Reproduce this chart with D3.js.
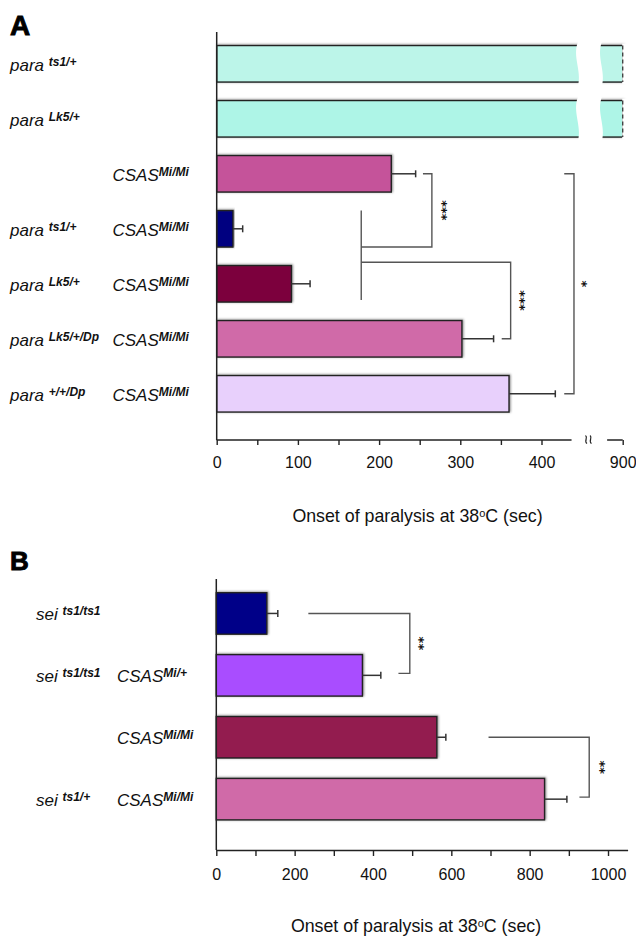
<!DOCTYPE html>
<html><head><meta charset="utf-8">
<script src="https://cdn.jsdelivr.net/npm/d3@7/dist/d3.min.js"></script>
<style>body{margin:0;background:#fff}svg{display:block;font-family:"Liberation Sans",Arial,sans-serif}</style>
</head><body>
<script>
// ---------- Panel A data ----------
const categoriesA = ["para ts1/+", "para Lk5/+", "CSAS Mi/Mi", "para ts1/+ CSAS Mi/Mi",
  "para Lk5/+ CSAS Mi/Mi", "para Lk5/+/Dp CSAS Mi/Mi", "para +/+/Dp CSAS Mi/Mi"];
const paraSupA = ["ts1/+", "Lk5/+", null, "ts1/+", "Lk5/+", "Lk5/+/Dp", "+/+/Dp"];
const csasSupA = [null, null, "Mi/Mi", "Mi/Mi", "Mi/Mi", "Mi/Mi", "Mi/Mi"];
const valuesA = [900, 900, 215, 20, 92, 302, 360];
const errorsA = [null, null, 30, 12, 23, 39, 57];
const colorsA = ["#bcf5e9", "#aef5e7", "#c5529a", "#000080", "#7b003c", "#d06aa8", "#e8d0fc"];
const ticksA = [0, 100, 200, 300, 400, 900];
const minorTicksA = [50, 150, 250, 350];
// significance brackets (category indices, data values)
const bracketsA = [
  {from: 2, xArm: 254, xBar: 265, label: "***"},
  {to: 5, xArm: 351, xBar: 362, label: "***"},
  {from: 2, to: 6, xArm: 428, xBar: 440, label: "*"}
];
const groupA = {x: 178, rows: [3, 4]};

// ---------- Panel B data ----------
const categoriesB = ["sei ts1/ts1", "sei ts1/ts1 CSAS Mi/+", "CSAS Mi/Mi", "sei ts1/+ CSAS Mi/Mi"];
const seiSupB = ["ts1/ts1", "ts1/ts1", null, "ts1/+"];
const csasSupB = [null, "Mi/+", "Mi/Mi", "Mi/Mi"];
const valuesB = [129, 373, 563, 838];
const errorsB = [28, 47, 23, 57];
const colorsB = ["#000088", "#a94dff", "#931a50", "#d06aa8"];
const ticksB = [0, 200, 400, 600, 800, 1000];
const minorTicksB = [100, 300, 500, 700, 900];
const bracketsB = [
  {from: 0, to: 1, xStart: 235, xBar: 494, xArm: 465, label: "**"},
  {from: 2, to: 3, xStart: 695, xBar: 952, xArm: 927, label: "**"}
];

const W = 636, H = 936;
const svg = d3.select("body").append("svg").attr("width", W).attr("height", H);
const defs = svg.append("defs");
const f = defs.append("filter").attr("id", "sh").attr("x", "-5%").attr("y", "-20%").attr("width", "115%").attr("height", "150%");
f.append("feDropShadow").attr("dx", 1).attr("dy", -0.5).attr("stdDeviation", 1.3).attr("flood-color", "#000").attr("flood-opacity", 0.45);

const ink = "#222", brk = "#555";

function rowLabel(g, x, y, base, sup, space) {
  const t = g.append("text").attr("x", x).attr("y", y).attr("font-style", "italic")
    .attr("font-size", 17).attr("fill", "#111");
  t.append("tspan").text(base + (space ? " " : ""));
  t.append("tspan").attr("dy", -5).attr("font-size", 12).attr("font-weight", "bold").text(sup);
}

function errorBar(g, x, xe, y) {
  g.append("line").attr("x1", x).attr("x2", xe).attr("y1", y).attr("y2", y).attr("stroke", "#333").attr("stroke-width", 1.5);
  g.append("line").attr("x1", xe).attr("x2", xe).attr("y1", y - 3.5).attr("y2", y + 3.5).attr("stroke", "#333").attr("stroke-width", 1.5);
}

function stars(g, x, y, s) {
  g.append("text").attr("transform", `translate(${x},${y}) rotate(90)`).attr("text-anchor", "middle")
    .attr("dy", "0.58em").attr("font-size", 13).attr("font-weight", "bold")
    .attr("font-family", "'DejaVu Sans', sans-serif").attr("fill", "#111").text(s);
}

// ================= PANEL A =================
const gA = svg.append("g");
const breakLo = 445;
const xA = d3.scaleLinear().domain([0, 450, 880, 900]).range([216.7, 582.1, 606.3, 622.7]);
const yA = d3.scaleBand().domain(categoriesA).range([36.3, 421.3]).paddingInner(0.336).paddingOuter(0.168);
const cyA = i => yA(categoriesA[i]) + yA.bandwidth() / 2;

gA.append("text").attr("x", 10).attr("y", 35).attr("font-size", 28).attr("font-weight", "bold")
  .attr("stroke", "#000").attr("stroke-width", 0.9).text("A");

// bars
gA.selectAll("rect.bar").data(valuesA).join("rect").attr("class", "bar")
  .attr("x", xA(0)).attr("y", (d, i) => yA(categoriesA[i]))
  .attr("width", d => xA(d) - xA(0)).attr("height", yA.bandwidth())
  .attr("fill", (d, i) => colorsA[i]).attr("stroke", ink).attr("stroke-width", 1.4)
  .attr("filter", "url(#sh)");

// broken bars: wavy gap and dashed open end
valuesA.forEach((v, i) => {
  if (v < 900) return;
  const t = yA(categoriesA[i]) - 4, b = t + yA.bandwidth() + 8, h = b - t;
  const x0 = xA(breakLo), x1 = 602;
  const wave = (x) => `C${x - 6},${t + h * 0.35} ${x + 4},${t + h * 0.65} ${x},${b}`;
  gA.append("path")
    .attr("d", `M${x0},${t} ${wave(x0)} L${x1},${b} C${x1 + 4},${t + h * 0.65} ${x1 - 6},${t + h * 0.35} ${x1},${t} Z`)
    .attr("fill", "#fff");
  gA.append("rect").attr("x", xA(900) - 0.5).attr("y", yA(categoriesA[i]) - 2).attr("width", 8)
    .attr("height", yA.bandwidth() + 4).attr("fill", "#fff");
  gA.append("line").attr("x1", xA(900)).attr("x2", xA(900)).attr("y1", yA(categoriesA[i]))
    .attr("y2", yA(categoriesA[i]) + yA.bandwidth()).attr("stroke", "#444").attr("stroke-width", 1.4)
    .attr("stroke-dasharray", "4,3");
});

// error bars
valuesA.forEach((v, i) => {
  if (errorsA[i] == null) return;
  errorBar(gA, xA(v), xA(v + errorsA[i]), cyA(i));
});

// axes
gA.append("line").attr("x1", xA(0)).attr("x2", xA(0)).attr("y1", 32).attr("y2", 440).attr("stroke", ink).attr("stroke-width", 1.5);
const axA = gA.append("g").attr("transform", "translate(0,440)")
  .call(d3.axisBottom(xA).tickValues(ticksA.concat(minorTicksA)).tickSize(5).tickSizeOuter(0)
    .tickFormat(d => ticksA.includes(d) ? d : ""));
axA.select(".domain").remove();
axA.selectAll(".tick line").attr("stroke", ink).attr("stroke-width", 1.4);
axA.selectAll(".tick text").attr("font-size", 16).attr("fill", "#111").attr("y", 17)
  .attr("font-family", "'Liberation Sans', Arial, sans-serif");
gA.append("line").attr("x1", xA(0)).attr("x2", xA(437)).attr("y1", 440).attr("y2", 440).attr("stroke", ink).attr("stroke-width", 1.5);
gA.append("line").attr("x1", xA(881)).attr("x2", xA(900)).attr("y1", 440).attr("y2", 440).attr("stroke", ink).attr("stroke-width", 1.5);
[586.5, 591].forEach(x => {
  gA.append("path").attr("d", `M${x - 1},${435.5} C${x + 2},${437.5} ${x - 3},${441} ${x + 0.5},${443.5}`)
    .attr("fill", "none").attr("stroke", ink).attr("stroke-width", 1.2);
});
const tA = gA.append("text").attr("x", 417.5).attr("y", 521.5).attr("text-anchor", "middle").attr("font-size", 17.8).attr("fill", "#111");
tA.append("tspan").text("Onset of paralysis at 38");
tA.append("tspan").attr("dy", -5).attr("font-size", 11).text("o");
tA.append("tspan").attr("dy", 5).text("C (sec)");

// row labels
categoriesA.forEach((c, i) => {
  const y = cyA(i) + 7.5;
  if (paraSupA[i]) rowLabel(gA, 10, y, "para", paraSupA[i], true);
  if (csasSupA[i]) rowLabel(gA, 112.5, y, "CSAS", csasSupA[i], false);
});

// brackets
const bl = (g, pts) => g.append("path").attr("d", d3.line()(pts)).attr("fill", "none").attr("stroke", brk).attr("stroke-width", 1.4);
const gy0 = yA(categoriesA[groupA.rows[0]]), gy1 = yA(categoriesA[groupA.rows[1]]) + yA.bandwidth() - 2;
bl(gA, [[xA(groupA.x), gy0], [xA(groupA.x), gy1]]);
// bracket 1
{
  const b = bracketsA[0];
  const y1 = cyA(b.from), y2 = cyA(groupA.rows[0]) + yA.bandwidth() / 2;
  bl(gA, [[xA(b.xArm), y1], [xA(b.xBar), y1], [xA(b.xBar), y2], [xA(groupA.x), y2]]);
  stars(gA, xA(b.xBar) + 14, (y1 + y2) / 2, b.label);
}
// bracket 2
{
  const b = bracketsA[1];
  const y1 = cyA(groupA.rows[1]) - 21.5, y2 = cyA(b.to);
  bl(gA, [[xA(groupA.x), y1], [xA(b.xBar), y1], [xA(b.xBar), y2], [xA(b.xArm), y2]]);
  stars(gA, xA(b.xBar) + 13, (y1 + y2) / 2, b.label);
}
// bracket 3
{
  const b = bracketsA[2];
  const y1 = cyA(b.from), y2 = cyA(b.to);
  bl(gA, [[xA(b.xArm), y1], [xA(b.xBar), y1], [xA(b.xBar), y2], [xA(b.xArm), y2]]);
  stars(gA, xA(b.xBar) + 12, (y1 + y2) / 2, b.label);
}

// ================= PANEL B =================
const gB = svg.append("g");
const xB = d3.scaleLinear().domain([0, 1050]).range([216.3, 627.6]);
const yB = d3.scaleBand().domain(categoriesB).range([582.5, 830.1]).paddingInner(0.33).paddingOuter(0.165);
const cyB = i => yB(categoriesB[i]) + yB.bandwidth() / 2;

gB.append("text").attr("x", 10).attr("y", 570).attr("font-size", 26).attr("font-weight", "bold")
  .attr("stroke", "#000").attr("stroke-width", 0.9).text("B");

gB.selectAll("rect.bar").data(valuesB).join("rect").attr("class", "bar")
  .attr("x", xB(0)).attr("y", (d, i) => yB(categoriesB[i]))
  .attr("width", d => xB(d) - xB(0)).attr("height", yB.bandwidth())
  .attr("fill", (d, i) => colorsB[i]).attr("stroke", ink).attr("stroke-width", 1.4)
  .attr("filter", "url(#sh)");
valuesB.forEach((v, i) => errorBar(gB, xB(v), xB(v + errorsB[i]), cyB(i)));

gB.append("line").attr("x1", xB(0)).attr("x2", xB(0)).attr("y1", 579).attr("y2", 850).attr("stroke", ink).attr("stroke-width", 1.5);
const axB = gB.append("g").attr("transform", "translate(0,850)")
  .call(d3.axisBottom(xB).tickValues(ticksB.concat(minorTicksB)).tickSize(6).tickSizeOuter(0)
    .tickFormat(d => ticksB.includes(d) ? d : ""));
axB.select(".domain").attr("stroke", ink).attr("stroke-width", 1.5);
axB.selectAll(".tick line").attr("stroke", ink).attr("stroke-width", 1.4);
axB.selectAll(".tick text").attr("font-size", 16).attr("fill", "#111").attr("y", 19)
  .attr("font-family", "'Liberation Sans', Arial, sans-serif");
const tB = gB.append("text").attr("x", 416).attr("y", 931.5).attr("text-anchor", "middle").attr("font-size", 17.8).attr("fill", "#111");
tB.append("tspan").text("Onset of paralysis at 38");
tB.append("tspan").attr("dy", -5).attr("font-size", 11).text("o");
tB.append("tspan").attr("dy", 5).text("C (sec)");

categoriesB.forEach((c, i) => {
  const y = cyB(i) + 7;
  if (seiSupB[i]) rowLabel(gB, 36, y, "sei", seiSupB[i], true);
  if (csasSupB[i]) rowLabel(gB, 117, y, "CSAS", csasSupB[i], false);
});

bracketsB.forEach((b, k) => {
  const y1 = cyB(b.from), y2 = cyB(b.to) - 2;
  bl(gB, [[xB(b.xStart), y1], [xB(b.xBar), y1], [xB(b.xBar), y2], [xB(b.xArm), y2]]);
  stars(gB, xB(b.xBar) + (k === 0 ? 12.5 : 14.5), (y1 + y2) / 2, b.label);
});
</script>
</body></html>
